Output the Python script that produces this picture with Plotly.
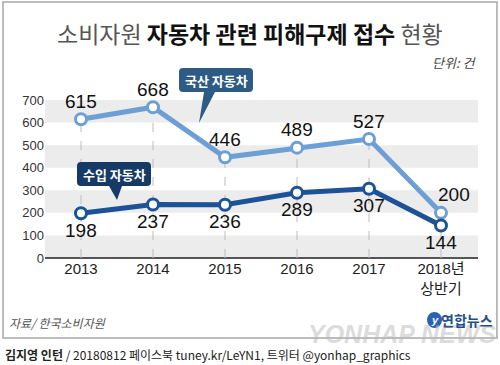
import plotly.graph_objects as go

# ---- data ----
years = ["2013", "2014", "2015", "2016", "2017", "2018년<br>상반기"]
domestic = [615, 668, 446, 489, 527, 200]   # 국산 자동차
imported = [198, 237, 236, 289, 307, 144]   # 수입 자동차
yticks = [0, 100, 200, 300, 400, 500, 600, 700]

title_plain1 = "소비자원 "
title_bold = "자동차 관련 피해구제 접수"
title_plain2 = " 현황"
unit_text = "단위: 건"
source_text = "자료/ 한국소비자원"
credit_bold = "김지영 인턴"
credit_rest = " / 20180812 페이스북 tuney.kr/LeYN1, 트위터 @yonhap_graphics"

LIGHT = "#6c9fd6"
DARK = "#1c5298"
BOX1 = "#2d5b85"
BOX2 = "#163a66"
NUMF = "Liberation Sans, Arial, Noto Sans CJK KR"
KRF = "Noto Sans CJK KR, Liberation Sans"

xs = list(range(len(years)))

W, H = 500, 365
ML, MR, MT, MB = 45, 22, 100, 107
PW, PH = W - ML - MR, H - MT - MB

fig = go.Figure()

# drop lines from upper series to baseline
dx, dy = [], []
for i, v in enumerate(domestic):
    dx += [i, i, None]
    dy += [0, v, None]
fig.add_trace(go.Scatter(x=dx, y=dy, mode="lines",
                         line=dict(color="#bdbdbd", width=1, dash="dash"),
                         hoverinfo="skip", showlegend=False))

for vals, col in ((domestic, LIGHT), (imported, DARK)):
    fig.add_trace(go.Scatter(
        x=xs, y=vals, mode="lines+markers",
        line=dict(color=col, width=5),
        marker=dict(size=11, color="white", line=dict(color=col, width=3)),
        cliponaxis=False, showlegend=False))

shapes = []
# alternating gray bands
for lo in yticks[:-1:2]:
    shapes.append(dict(type="rect", xref="paper", yref="y", x0=0, x1=1,
                       y0=lo, y1=lo + 100, fillcolor="#ececec",
                       line=dict(width=0), layer="below"))


def px_x(p):
    return p - ML


def px_y(p):
    return (MT + PH) - p


def bubble(x0, x1, y0, y1, tb0, tb1, tip, color, r=4):
    # pixel-offset path relative to plot-area bottom-left; y up
    X0, X1 = px_x(x0), px_x(x1)
    Yt, Yb = px_y(y0), px_y(y1)
    a, b = px_x(tb0), px_x(tb1)
    tx, ty = px_x(tip[0]), px_y(tip[1])
    path = (f"M{X0+r},{Yt} L{X1-r},{Yt} Q{X1},{Yt} {X1},{Yt-r} "
            f"L{X1},{Yb+r} Q{X1},{Yb} {X1-r},{Yb} L{b},{Yb} L{tx},{ty} L{a},{Yb} "
            f"L{X0+r},{Yb} Q{X0},{Yb} {X0},{Yb+r} L{X0},{Yt-r} Q{X0},{Yt} {X0+r},{Yt} Z")
    return dict(type="path", xref="paper", yref="paper", xsizemode="pixel",
                ysizemode="pixel", xanchor=0, yanchor=0, path=path,
                fillcolor=color, line=dict(width=0), layer="above")


shapes.append(bubble(179, 253, 68, 92, 204, 215, (199, 123), BOX1))
shapes.append(bubble(77, 151, 162, 186, 109, 122, (117, 200), BOX2))

# outer border
shapes.append(dict(type="rect", xref="paper", yref="paper", xsizemode="pixel",
                   ysizemode="pixel", xanchor=0, yanchor=0,
                   x0=px_x(3), x1=px_x(497), y0=px_y(338), y1=px_y(2),
                   line=dict(color="#a8a8a8", width=1.5), fillcolor="rgba(0,0,0,0)"))

# yonhap logo mark
shapes.append(dict(type="circle", xref="paper", yref="paper", xsizemode="pixel",
                   ysizemode="pixel", xanchor=0, yanchor=0,
                   x0=px_x(428), x1=px_x(441), y0=px_y(327), y1=px_y(313),
                   line=dict(color="#2a63b0", width=2), fillcolor="#2a63b0"))


def ann(text, px, py, size, color="#111", family=KRF, xa="center", ya="middle", **kw):
    return dict(text=text, xref="paper", yref="paper",
                x=(px - ML) / PW, y=(MT + PH - py) / PH,
                xanchor=xa, yanchor=ya, showarrow=False,
                font=dict(family=family, size=size, color=color), **kw)


annotations = [
    ann(f"{title_plain1}<span style='color:#111'><b>{title_bold}</b></span>{title_plain2}",
        250, 33, 23, color="#555"),
    ann(f"<i>{unit_text}</i>", 478, 62, 13, color="#444", xa="right"),
    ann("<b>국산 자동차</b>", 216, 80, 13, color="white"),
    ann("<b>수입 자동차</b>", 114, 174, 13, color="white"),
    ann(f"<i>{source_text}</i>", 7, 322, 12, color="#555", xa="left"),
    ann("<b><i>YONHAP NEWS</i></b>", 402, 334, 25, color="rgba(185,185,185,0.5)",
        family="Liberation Sans, Arial"),
    ann("<b><i>y</i></b>", 434.5, 320, 11, color="white", family="Liberation Sans, Arial"),
    ann("<b>연합뉴스</b>", 495, 320, 14, color="#1f4f8f", xa="right"),
    ann(f"<b>{credit_bold}</b>{credit_rest}", 3, 354, 12, color="#222", xa="left"),
]

# value labels, anchored to data points
for i, v in enumerate(domestic):
    last = i == len(domestic) - 1
    annotations.append(dict(x=i, y=v, xref="x", yref="y", text=str(v), showarrow=False,
                            xanchor="center", yanchor="middle",
                            xshift=13 if last else 0, yshift=18,
                            font=dict(family=NUMF, size=19, color="#111")))
for i, v in enumerate(imported):
    annotations.append(dict(x=i, y=v, xref="x", yref="y", text=str(v), showarrow=False,
                            xanchor="center", yanchor="middle", yshift=-17,
                            font=dict(family=NUMF, size=19, color="#111")))

fig.update_layout(
    width=W, height=H,
    margin=dict(l=ML, r=MR, t=MT, b=MB),
    paper_bgcolor="white", plot_bgcolor="white",
    shapes=shapes, annotations=annotations,
    xaxis=dict(range=[-0.5, PW / 72 - 0.5], tickvals=xs, ticktext=years,
               showgrid=False, zeroline=False, showline=False, ticks="",
               tickfont=dict(family=NUMF, size=15, color="#222"), fixedrange=True),
    yaxis=dict(range=[0, 700], tickvals=yticks, showgrid=False, zeroline=True,
               zerolinecolor="#555", zerolinewidth=2, ticks="",
               tickfont=dict(family=NUMF, size=13, color="#333"), fixedrange=True),
)

fig.write_html("out.html", config={"displayModeBar": False},
               post_script="document.body.style.margin='0';document.body.style.overflow='hidden';")
